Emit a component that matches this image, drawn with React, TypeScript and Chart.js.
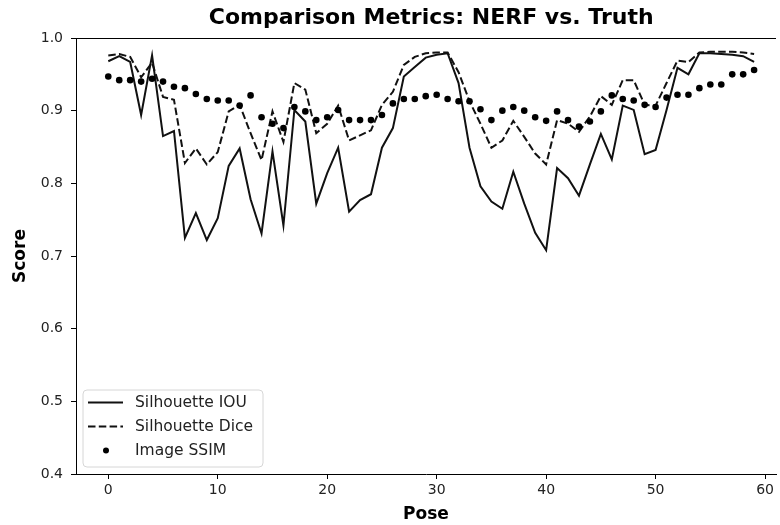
import React, { useEffect, useRef } from "react";
import { Chart, registerables } from "chart.js";

Chart.register(...registerables);

const poses: number[] = Array.from({ length: 60 }, (_, i) => i);

const silhouetteIOU: number[] = [
  0.968, 0.975, 0.967, 0.894, 0.976, 0.865, 0.872, 0.725, 0.759, 0.722,
  0.752, 0.824, 0.848, 0.778, 0.731, 0.844, 0.742, 0.901, 0.885, 0.772,
  0.814, 0.849, 0.761, 0.777, 0.785, 0.849, 0.876, 0.947, 0.96, 0.973,
  0.977, 0.979, 0.938, 0.849, 0.796, 0.775, 0.765, 0.816, 0.772, 0.732,
  0.708, 0.821, 0.807, 0.783, 0.826, 0.868, 0.833, 0.907, 0.901, 0.84,
  0.846, 0.901, 0.959, 0.95, 0.979, 0.979, 0.978, 0.977, 0.975, 0.967,
];

const silhouetteDice: number[] = [
  0.976, 0.978, 0.974, 0.946, 0.966, 0.919, 0.915, 0.828, 0.848, 0.826,
  0.843, 0.899, 0.908, 0.869, 0.832, 0.899, 0.857, 0.938, 0.929, 0.869,
  0.882, 0.907, 0.859, 0.866, 0.873, 0.908, 0.926, 0.963, 0.974, 0.979,
  0.98, 0.98, 0.953, 0.913, 0.882, 0.849, 0.859, 0.886, 0.864, 0.841,
  0.826, 0.887, 0.882, 0.871, 0.892, 0.92, 0.908, 0.942, 0.942, 0.908,
  0.907, 0.938, 0.969, 0.967, 0.98, 0.981, 0.981, 0.981, 0.98, 0.978,
];

const imageSSIM: number[] = [
  0.947, 0.942, 0.942, 0.94, 0.944, 0.94, 0.933, 0.931, 0.923, 0.916,
  0.914, 0.914, 0.907, 0.921, 0.891, 0.882, 0.876, 0.905, 0.899, 0.887,
  0.891, 0.901, 0.887, 0.887, 0.887, 0.894, 0.91, 0.916, 0.916, 0.92,
  0.922, 0.916, 0.913, 0.913, 0.902, 0.887, 0.9, 0.905, 0.9, 0.891,
  0.886, 0.899, 0.887, 0.878, 0.885, 0.899, 0.921, 0.916, 0.914, 0.908,
  0.905, 0.918, 0.922, 0.922, 0.931, 0.936, 0.936, 0.95, 0.95, 0.956,
];

const xTicks: number[] = [0, 10, 20, 30, 40, 50, 60];
const yTicks: number[] = [0.4, 0.5, 0.6, 0.7, 0.8, 0.9, 1.0];
const seriesLabels: string[] = ["Silhouette IOU", "Silhouette Dice", "Image SSIM"];
const titleText = "Comparison Metrics: NERF vs. Truth";
const xLabel = "Pose";
const yLabel = "Score";

const FONT = "'DejaVu Sans', sans-serif";
const DASH = [7.5, 3.3];

const framePlugin = {
  id: "frame",
  afterDraw(chart: any) {
    const { ctx, chartArea } = chart;
    const xs = chart.scales.x;
    ctx.save();
    // top spine
    ctx.strokeStyle = "#000";
    ctx.lineWidth = 1;
    ctx.beginPath();
    ctx.moveTo(chartArea.left, chartArea.top + 0.5);
    ctx.lineTo(chartArea.right, chartArea.top + 0.5);
    ctx.stroke();
    // title
    ctx.fillStyle = "#000";
    ctx.font = `bold 22px ${FONT}`;
    ctx.textAlign = "center";
    ctx.textBaseline = "middle";
    ctx.fillText(titleText, xs.getPixelForValue(29.5), 18);

    // legend
    const bx = chartArea.left + 7;
    const bw = 180;
    const bh = 77;
    const by = chartArea.bottom - 7 - bh;
    ctx.beginPath();
    const r = 4;
    ctx.moveTo(bx + r, by);
    ctx.lineTo(bx + bw - r, by);
    ctx.arcTo(bx + bw, by, bx + bw, by + r, r);
    ctx.lineTo(bx + bw, by + bh - r);
    ctx.arcTo(bx + bw, by + bh, bx + bw - r, by + bh, r);
    ctx.lineTo(bx + r, by + bh);
    ctx.arcTo(bx, by + bh, bx, by + bh - r, r);
    ctx.lineTo(bx, by + r);
    ctx.arcTo(bx, by, bx + r, by, r);
    ctx.closePath();
    ctx.fillStyle = "rgba(255,255,255,0.85)";
    ctx.fill();
    ctx.strokeStyle = "#d6d6d6";
    ctx.lineWidth = 1;
    ctx.stroke();

    const rows = [by + 12.5, by + 36.5, by + 60.5];
    ctx.strokeStyle = "#111";
    ctx.lineWidth = 2;
    ctx.setLineDash([]);
    ctx.beginPath();
    ctx.moveTo(bx + 5, rows[0]);
    ctx.lineTo(bx + 40, rows[0]);
    ctx.stroke();
    ctx.setLineDash(DASH);
    ctx.beginPath();
    ctx.moveTo(bx + 5, rows[1]);
    ctx.lineTo(bx + 40, rows[1]);
    ctx.stroke();
    ctx.setLineDash([]);
    ctx.fillStyle = "#000";
    ctx.beginPath();
    ctx.arc(bx + 23, rows[2], 3, 0, Math.PI * 2);
    ctx.fill();

    ctx.font = `15.5px ${FONT}`;
    ctx.fillStyle = "#222";
    ctx.textAlign = "left";
    seriesLabels.forEach((t, i) => ctx.fillText(t, bx + 52, rows[i]));
    ctx.restore();
  },
};

export default function App() {
  const ref = useRef<HTMLCanvasElement | null>(null);
  useEffect(() => {
    if (!ref.current) return;
    const toPts = (arr: number[]) => arr.map((v, i) => ({ x: poses[i], y: v }));
    const chart = new Chart(ref.current, {
      type: "line",
      data: {
        datasets: [
          {
            label: seriesLabels[0],
            data: toPts(silhouetteIOU),
            borderColor: "#111",
            borderWidth: 2,
            pointRadius: 0,
            tension: 0,
            order: 2,
          },
          {
            label: seriesLabels[1],
            data: toPts(silhouetteDice),
            borderColor: "#111",
            borderWidth: 2,
            borderDash: DASH,
            pointRadius: 0,
            tension: 0,
            order: 1,
          },
          {
            label: seriesLabels[2],
            data: toPts(imageSSIM),
            showLine: false,
            pointRadius: 3.3,
            pointBackgroundColor: "#000",
            pointBorderWidth: 0,
            borderColor: "#000",
            order: 0,
          },
        ],
      },
      options: {
        animation: false,
        responsive: false,
        layout: { padding: { top: 38, left: 0, right: 0, bottom: 0 } },
        plugins: {
          legend: { display: false },
          title: { display: false },
          tooltip: { enabled: false },
        },
        scales: {
          x: {
            type: "linear",
            min: -2.95,
            max: 61.0,
            afterBuildTicks: (s: any) => {
              s.ticks = xTicks.map((v) => ({ value: v }));
            },
            afterFit: (s: any) => {
              s.height = 51;
            },
            grid: {
              display: true,
              drawOnChartArea: false,
              drawTicks: true,
              tickLength: 5,
              color: "#000",
            },
            border: { display: true, color: "#000", width: 1 },
            ticks: {
              font: { family: FONT, size: 14 },
              color: "#222",
              padding: 3,
              maxRotation: 0,
              autoSkip: false,
            },
            title: {
              display: true,
              text: xLabel,
              font: { family: FONT, size: 17, weight: "bold" },
              color: "#000",
              padding: { top: 0, bottom: 0 },
            },
          },
          y: {
            type: "linear",
            min: 0.4,
            max: 1.0,
            afterBuildTicks: (s: any) => {
              s.ticks = yTicks.map((v) => ({ value: v }));
            },
            afterFit: (s: any) => {
              s.width = 76;
            },
            grid: {
              display: true,
              drawOnChartArea: false,
              drawTicks: true,
              tickLength: 5,
              color: "#000",
            },
            border: { display: true, color: "#000", width: 1 },
            ticks: {
              font: { family: FONT, size: 14 },
              color: "#222",
              padding: 8,
              callback: (v: any) => Number(v).toFixed(1),
            },
            title: {
              display: true,
              text: yLabel,
              font: { family: FONT, size: 17, weight: "bold" },
              color: "#000",
              padding: { top: 10, bottom: 0 },
            },
          },
        },
      },
      plugins: [framePlugin],
    });
    return () => chart.destroy();
  }, []);
  return (
    <div
      style={{
        position: "fixed",
        left: 0,
        top: 0,
        width: 780,
        height: 525,
        overflow: "hidden",
        background: "#fff",
      }}
    >
      <canvas ref={ref} width={780} height={525} />
    </div>
  );
}
